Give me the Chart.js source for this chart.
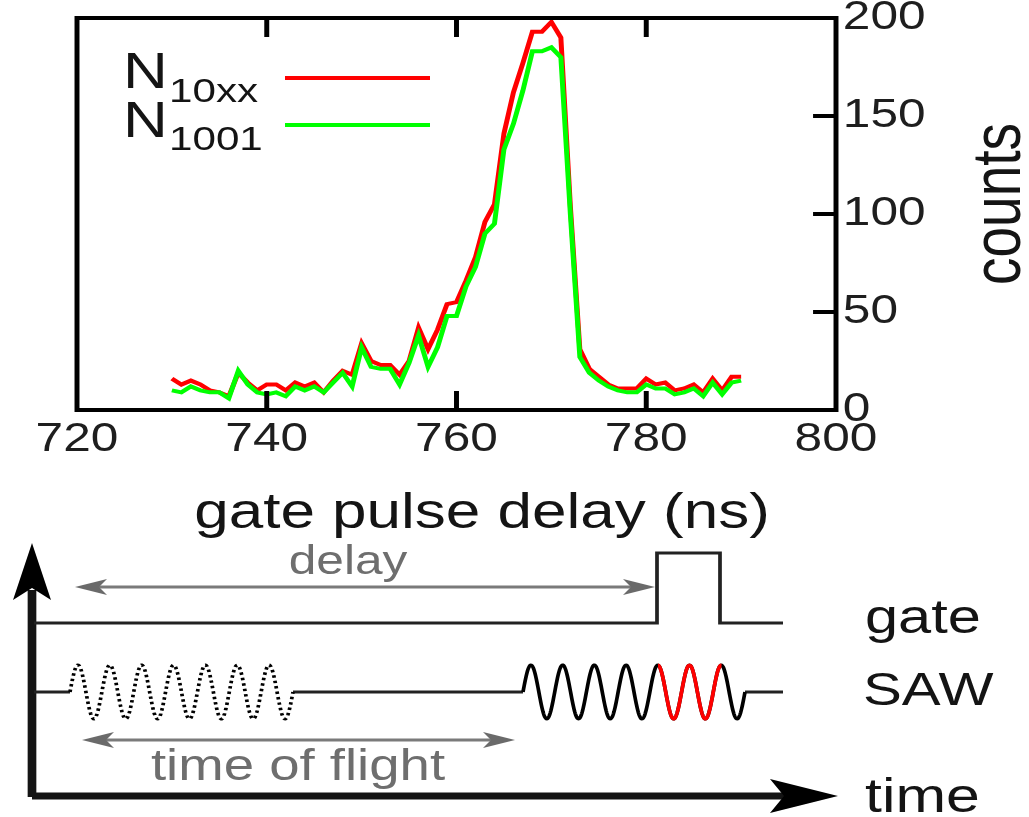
<!DOCTYPE html>
<html>
<head>
<meta charset="utf-8">
<title>gate pulse delay scan</title>
<script src="https://cdn.jsdelivr.net/npm/chart.js@4.4.1/dist/chart.umd.min.js"></script>
<style>
  html, body { margin: 0; padding: 0; background: #fff; }
  canvas { display: block; }
</style>
</head>
<body>
<canvas id="chart" width="1029" height="817"></canvas>
<script>
// gate pulse delay (ns), 1 ns steps
const delays = [730, 731, 732, 733, 734, 735, 736, 737, 738, 739,
                740, 741, 742, 743, 744, 745, 746, 747, 748, 749,
                750, 751, 752, 753, 754, 755, 756, 757, 758, 759,
                760, 761, 762, 763, 764, 765, 766, 767, 768, 769,
                770, 771, 772, 773, 774, 775, 776, 777, 778, 779,
                780, 781, 782, 783, 784, 785, 786, 787, 788, 789,
                790];

// counts N_10xx (red)
const counts10xx = [16, 13, 15, 13, 10, 9, 7, 19, 14, 10,
                    13, 13, 10, 14, 12, 14, 9, 15, 20, 18,
                    34, 25, 23, 23, 18, 25, 42, 31, 41, 54,
                    55, 66, 78, 96, 105, 141, 162, 177, 193, 193,
                    198, 190, 104, 31, 21, 17, 13, 11, 11, 11,
                    16, 13, 14, 10, 11, 13, 9, 16, 10, 17,
                    17];

// counts N_1001 (green)
const counts1001 = [10, 9, 12, 10, 9, 9, 6, 20, 13, 9,
                    8, 9, 7, 12, 10, 12, 9, 14, 19, 12,
                    32, 22, 21, 21, 13, 24, 38, 22, 32, 48,
                    48, 63, 73, 90, 95, 133, 146, 163, 183, 183,
                    185, 180, 100, 27, 19, 15, 12, 10, 9, 9,
                    13, 11, 11, 8, 9, 11, 7, 14, 8, 14,
                    15];

const xTicks = [720, 740, 760, 780, 800];
const yTicks = [0, 50, 100, 150, 200];
const seriesNames = ['N', 'N'];
const seriesSubs = ['10xx', '1001'];
const seriesColors = ['#ff0000', '#00ff00'];

// the reference is stretched sideways, so everything is drawn narrow and scaled by SX
const SX = 1.24;
const LW = 1029 / SX;
const P = x => x / SX;   // picture x -> drawing x
const FONT = '"Liberation Sans", Arial, Helvetica, sans-serif';
const INK = '#141414';
const GREY = '#6e6e6e';

function toPoints(ys) {
    return delays.map((d, i) => ({ x: d, y: ys[i] }));
}

function head(ctx, tx, ty, dx, dy, len, half, notch) {
    const bx = tx - dx * len, by = ty - dy * len;
    const nx = -dy, ny = dx;
    ctx.beginPath();
    ctx.moveTo(P(tx), ty);
    ctx.lineTo(P(bx + nx * half), by + ny * half);
    ctx.lineTo(P(tx - dx * (len - notch)), ty - dy * (len - notch));
    ctx.lineTo(P(bx - nx * half), by - ny * half);
    ctx.closePath();
    ctx.fill();
}

function line(ctx, pts) {
    ctx.beginPath();
    pts.forEach((p, i) => i ? ctx.lineTo(P(p[0]), p[1]) : ctx.moveTo(P(p[0]), p[1]));
    ctx.stroke();
}

function wave(ctx, x0, x1, y0, amp, periods) {
    const n = 400;
    ctx.beginPath();
    for (let i = 0; i <= n; i++) {
        const x = x0 + (x1 - x0) * i / n;
        const y = y0 - amp * Math.sin(2 * Math.PI * periods * i / n);
        i ? ctx.lineTo(P(x), y) : ctx.moveTo(P(x), y);
    }
    ctx.stroke();
}

function text(ctx, str, x, y, size, color, align) {
    ctx.font = size + 'px ' + FONT;
    ctx.fillStyle = color;
    ctx.textAlign = align || 'left';
    ctx.textBaseline = 'alphabetic';
    ctx.fillText(str, P(x), y);
}

const figure = {
    id: 'figure',
    beforeDraw(chart) {
        chart.ctx.save();
        chart.ctx.scale(SX, 1);
    },
    afterDatasetsDraw(chart) {
        const ctx = chart.ctx;
        const { left, right, top, bottom } = chart.chartArea;
        const xs = chart.scales.x, ys = chart.scales.y;
        ctx.save();
        ctx.strokeStyle = '#000';
        ctx.lineWidth = 4;
        ctx.lineCap = 'butt';
        ctx.strokeRect(left, top, right - left, bottom - top);
        ctx.beginPath();
        xTicks.slice(1, -1).forEach(v => {
            const px = xs.getPixelForValue(v);
            ctx.moveTo(px, bottom); ctx.lineTo(px, bottom - 19);
            ctx.moveTo(px, top); ctx.lineTo(px, top + 19);
        });
        yTicks.slice(1, -1).forEach(v => {
            const py = ys.getPixelForValue(v);
            ctx.moveTo(right, py); ctx.lineTo(right - 18.5, py);
        });
        ctx.stroke();

        // legend with subscripts
        const rows = [[88, 102, 78], [137, 150, 125]];
        chart.data.datasets.forEach((ds, i) => {
            const r = rows[i];
            ctx.font = '50px ' + FONT;
            ctx.fillStyle = INK;
            ctx.textAlign = 'left';
            ctx.textBaseline = 'alphabetic';
            ctx.fillText(seriesNames[i], P(123), r[0]);
            const w = ctx.measureText(seriesNames[i]).width;
            ctx.font = '34px ' + FONT;
            ctx.fillText(seriesSubs[i], P(123) + w + 1, r[1]);
            ctx.strokeStyle = ds.borderColor;
            ctx.lineWidth = 4;
            line(ctx, [[285, r[2]], [430, r[2]]]);
        });
        ctx.restore();
    },
    afterDraw(chart) {
        const ctx = chart.ctx;
        ctx.save();
        ctx.lineCap = 'butt';
        ctx.lineJoin = 'miter';

        // axis titles
        text(ctx, 'gate pulse delay (ns)', 482, 528, 50, INK, 'center');
        ctx.save();
        ctx.translate(P(1020), 204);
        ctx.rotate(-Math.PI / 2);
        ctx.font = '55px ' + FONT;
        ctx.fillStyle = INK;
        ctx.textAlign = 'center';
        ctx.textBaseline = 'alphabetic';
        ctx.fillText('counts', 0, 0);
        ctx.restore();

        // timing sketch
        ctx.strokeStyle = INK;
        ctx.fillStyle = '#000';
        ctx.lineWidth = 7;
        line(ctx, [[32, 797], [32, 590]]);
        line(ctx, [[32, 796], [785, 796]]);
        ctx.fillStyle = '#000';
        head(ctx, 32, 543, 0, -1, 57, 19, 12);
        head(ctx, 838, 796, 1, 0, 68, 17, 14);

        // gate pulse
        ctx.lineWidth = 3;
        ctx.strokeStyle = '#222';
        line(ctx, [[34, 623], [657, 623], [657, 553], [720, 553], [720, 623], [783, 623]]);

        // SAW: emitted (dotted) and arrived packet
        line(ctx, [[34, 692], [70, 692]]);
        line(ctx, [[293, 692], [523, 692]]);
        line(ctx, [[745, 692], [783, 692]]);
        ctx.save();
        ctx.setLineDash([2.5, 3]);
        ctx.strokeStyle = '#000';
        wave(ctx, 70, 293, 692, 27, 7);
        ctx.restore();
        ctx.strokeStyle = '#000';
        wave(ctx, 523, 745, 692, 27, 7);
        ctx.save();
        ctx.beginPath();
        ctx.rect(P(658), 640, P(721.5) - P(658), 110);
        ctx.clip();
        ctx.strokeStyle = '#ff0000';
        wave(ctx, 523, 745, 692, 27, 7);
        ctx.restore();

        // delay and time-of-flight arrows
        ctx.strokeStyle = '#7a7a7a';
        ctx.fillStyle = '#6a6a6a';
        ctx.lineWidth = 3;
        line(ctx, [[95, 587], [640, 587]]);
        head(ctx, 75, 587, -1, 0, 32, 8, 8);
        head(ctx, 655, 587, 1, 0, 32, 8, 8);
        line(ctx, [[100, 740], [500, 740]]);
        head(ctx, 82, 740, -1, 0, 32, 8, 8);
        head(ctx, 515, 740, 1, 0, 32, 8, 8);

        text(ctx, 'delay', 348, 574, 40, GREY, 'center');
        text(ctx, 'time of flight', 298, 780, 44, GREY, 'center');
        text(ctx, 'gate', 865, 633, 48, INK);
        text(ctx, 'SAW', 863, 705, 47, INK);
        text(ctx, 'time', 865, 812, 49, INK);

        ctx.restore();
        ctx.restore();   // undo the stretch from beforeDraw
    }
};

new Chart(document.getElementById('chart'), {
    type: 'line',
    data: {
        datasets: [{
            label: 'N10xx',
            data: toPoints(counts10xx),
            borderColor: seriesColors[0],
            borderWidth: 4,
            pointRadius: 0,
            tension: 0,
            order: 1
        }, {
            label: 'N1001',
            data: toPoints(counts1001),
            borderColor: seriesColors[1],
            borderWidth: 4,
            pointRadius: 0,
            tension: 0,
            order: 0
        }]
    },
    options: {
        responsive: false,
        animation: false,
        devicePixelRatio: 1,
        events: [],
        layout: {
            padding: { left: P(77), top: 18, right: 1029 - LW, bottom: 0 }
        },
        scales: {
            x: {
                type: 'linear',
                position: 'bottom',
                min: 720,
                max: 800,
                afterBuildTicks: s => { s.ticks = xTicks.map(v => ({ value: v })); },
                afterFit: s => { s.height = 817 - 410; s.paddingLeft = 0; s.paddingRight = 0; },
                grid: { display: false, drawTicks: false },
                border: { display: false },
                ticks: {
                    padding: 6,
                    color: '#1e1e1e',
                    font: { family: FONT, size: 40 }
                }
            },
            y: {
                type: 'linear',
                position: 'right',
                min: 0,
                max: 200,
                afterBuildTicks: s => { s.ticks = yTicks.map(v => ({ value: v })); },
                afterFit: s => { s.width = LW - P(836); s.paddingTop = 0; s.paddingBottom = 0; },
                grid: { display: false, drawTicks: false },
                border: { display: false },
                ticks: {
                    padding: 5.5,
                    color: '#1e1e1e',
                    font: { family: FONT, size: 40 }
                }
            }
        },
        plugins: {
            legend: { display: false },
            tooltip: { enabled: false },
            title: { display: false }
        }
    },
    plugins: [figure]
});
</script>
</body>
</html>
